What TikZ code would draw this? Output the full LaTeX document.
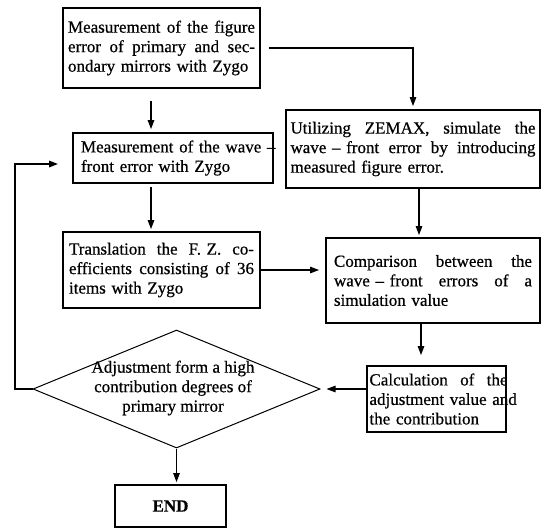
\documentclass[tikz,border=0pt]{standalone}
\usepackage{fontspec}
\setmainfont{Liberation Serif}[FakeBold=0.6]
\usetikzlibrary{arrows.meta,shapes.geometric}
\newcommand\jl[2]{\makebox[#1][l]{#2}}
\begin{document}
\begin{tikzpicture}[x=1pt,y=-1pt,
  txt/.style={font=\fontsize{17}{19.5}\selectfont},
  box/.style={draw, line width=1.8pt, inner sep=0pt, txt, align=left},
  arr/.style={-{Triangle[length=9pt,width=6.5pt]}, line width=1.1pt},
]
\useasboundingbox (0,0) rectangle (545,528);

\node[box, minimum width=197pt, minimum height=80pt, text width=187pt] (b1) at (161.5,48)
  {\jl{187pt}{Measurement\hfill of\hfill the\hfill figure}\\ \jl{187pt}{error\hfill of\hfill primary\hfill and\hfill sec-}\\ ondary mirrors with Zygo};
\node[box, minimum width=200pt, minimum height=50pt, text width=188pt] (b2) at (173,158)
  {\jl{188pt}{\hspace*{2pt}Measurement of the wave –}\\ \jl{188pt}{\hspace*{2pt}front error with Zygo}};
\node[box, minimum width=254pt, minimum height=78pt, text width=245pt] (b3) at (413,149)
  {\jl{245pt}{Utilizing\hfill ZEMAX,\hfill simulate\hfill the}\\ \jl{245pt}{wave – front\hfill error\hfill by\hfill introducing}\\ measured figure error.};
\node[box, minimum width=197pt, minimum height=76pt, text width=185pt] (b4) at (161.5,270)
  {\jl{185pt}{Translation\hfill the\hfill F. Z.\hfill co-}\\ \jl{185pt}{efficients\hfill consisting\hfill of\hfill 36}\\ items with Zygo};
\node[box, minimum width=214pt, minimum height=85pt, text width=198pt] (b5) at (433,280.5)
  {\jl{198pt}{Comparison\hfill between\hfill the}\\ \jl{198pt}{wave – front\hfill errors\hfill of\hfill a}\\ simulation value};
\node[box, minimum width=139pt, minimum height=66pt, text width=134pt] (b6) at (436.5,399)
  {\jl{138pt}{Calculation\hfill of\hfill the}\\ \jl{134pt}{adjustment value and}\\ the contribution};
\node[draw, diamond, line width=1pt, minimum width=287pt, minimum height=118pt, inner sep=0pt] (dia) at (176.5,389) {};
\node[txt, align=center] (dt) at (173,388)
  {Adjustment form a high\\ contribution degrees of\\ primary mirror};
\node[box, minimum width=111pt, minimum height=42pt, font=\fontsize{17}{19.5}\selectfont\bfseries] (fin) at (170.5,506) {END};
\coordinate (fb) at (58,164);

\draw[arr, shorten <=12pt, shorten >=3pt] (b1.south -| 151,0) -- (b2.north -| 151,0);
\draw[arr, shorten <=8pt, shorten >=3pt] (b1.east) -| (b3.north);
\draw[arr, shorten <=3pt, shorten >=2pt] (b2.south -| 151,0) -- (b4.north -| 151,0);
\draw[arr, shorten >=2pt] (b3.south -| 419,0) -- (b5.north -| 419,0);
\draw[arr, shorten >=6pt] (b4.east) -- (b4.east -| b5.west);
\draw[arr, shorten >=10pt] (b5.south -| 421,0) -- (b6.north -| 421,0);
\draw[arr, shorten >=6pt] (b6.west |- dia.east) -- (dia.east);
\draw[arr, shorten >=2pt] (dia.south) -- (dia.south |- fin.north);
\draw[arr, line width=1.6pt] (dia.west) -- (dia.west -| 15,0) |- (fb);
\end{tikzpicture}
\end{document}
